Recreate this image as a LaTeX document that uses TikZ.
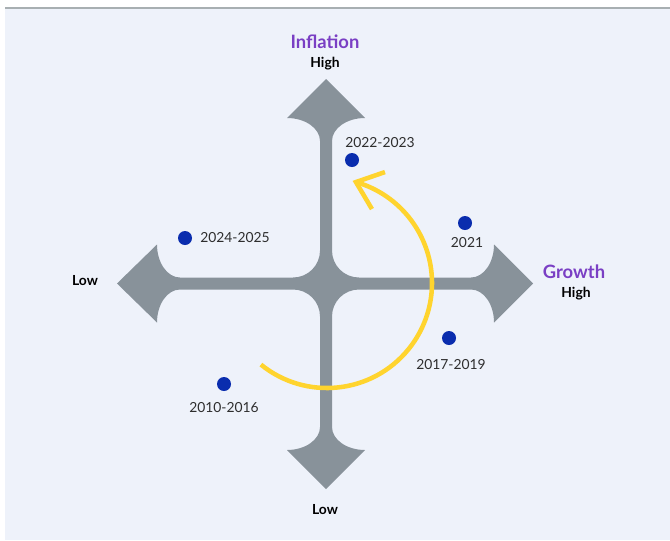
\documentclass[tikz,border=0pt]{standalone}
\usepackage{fontspec}
\setmainfont{Lato}
\definecolor{bgc}{HTML}{EEF2FA}
\definecolor{topline}{HTML}{A8AFB2}
\definecolor{crossc}{HTML}{88929A}
\definecolor{dotc}{HTML}{0A2DAE}
\definecolor{arcc}{HTML}{FFD42E}
\definecolor{purp}{HTML}{7A3FC4}
\definecolor{labc}{HTML}{2E2E2E}
\tikzset{
  dotn/.style={circle,fill=dotc,inner sep=0pt,minimum size=10.5pt},
  datel/.style={text=labc,font=\fontsize{10.4}{12}\selectfont,inner sep=0pt},
  axisl/.style={text=purp,font=\fontsize{13.8}{15}\selectfont\bfseries,inner sep=0pt},
  levell/.style={text=black,font=\fontsize{10.4}{12}\selectfont\bfseries,inner sep=0pt},
  cyc/.style={draw=arcc,line width=3.4pt}
}
\begin{document}
\begin{tikzpicture}[x=0.75pt,y=-0.75pt]
\useasboundingbox (0,0) rectangle (670,540);
\fill[white] (0,0) rectangle (670,540);
\fill[bgc] (5,8.5) rectangle (670,540);
\draw[topline,line width=1.5pt] (5,7.7) -- (670,7.7);
% cross of arrows
\fill[crossc] (326,79) -- (365,118)
  .. controls (346.8,118) and (332,128.3) .. (332,141)
  -- (332,250.5)
  .. controls (332,265.4) and (344,277.5) .. (359,277.5)
  -- (471,277.5)
  .. controls (483.7,277.5) and (494,262.7) .. (494,244.5)
  -- (533,283.5) -- (494,322.5)
  .. controls (494,304.3) and (483.7,289.5) .. (471,289.5)
  -- (359,289.5)
  .. controls (344,289.5) and (332,301.6) .. (332,316.5)
  -- (332,427)
  .. controls (332,439.7) and (346.8,450) .. (365,450)
  -- (326,489) -- (287,450)
  .. controls (305.2,450) and (320,439.7) .. (320,427)
  -- (320,316.5)
  .. controls (320,301.6) and (308,289.5) .. (293,289.5)
  -- (180,289.5)
  .. controls (167.3,289.5) and (157,304.3) .. (157,322.5)
  -- (117,283.5) -- (157,244.5)
  .. controls (157,262.7) and (167.3,277.5) .. (180,277.5)
  -- (293,277.5)
  .. controls (308,277.5) and (320,265.4) .. (320,250.5)
  -- (320,141)
  .. controls (320,128.3) and (305.2,118) .. (287,118)
  -- cycle;
% cycle arc
\coordinate (ctr) at (327,283);
\draw[cyc] (ctr) ++(231:78.75pt) arc[start angle=231,end angle=434,radius=78.75pt] coordinate (tipc);
\draw[cyc,line join=miter] (tipc) ++(29,-10) -- (tipc) -- ++(16,27);
% dots
\node[dotn] (d22) at (352,160) {};
\node[dotn] (d24) at (185,238) {};
\node[dotn] (d21) at (465,223) {};
\node[dotn] (d17) at (449,338) {};
\node[dotn] (d10) at (224,384) {};
\node[datel] (l22) at (380,143) {2022-2023};
\node[datel,anchor=west] (l24) at (200,238) {2024-2025};
\node[datel] (l21) at (467,243) {2021};
\node[datel] (l17) at (451,365) {2017-2019};
\node[datel] (l10) at (224,408) {2010-2016};
% axis labels
\node[axisl] (infl) at (325,42) {Inflation};
\node[levell] (ihigh) at (325,64) {High};
\node[levell] (ilow) at (325,510) {Low};
\node[levell] (glow) at (85,281) {Low};
\node[axisl] (grow) at (574,272) {Growth};
\node[levell] (ghigh) at (576,294) {High};
\end{tikzpicture}
\end{document}
